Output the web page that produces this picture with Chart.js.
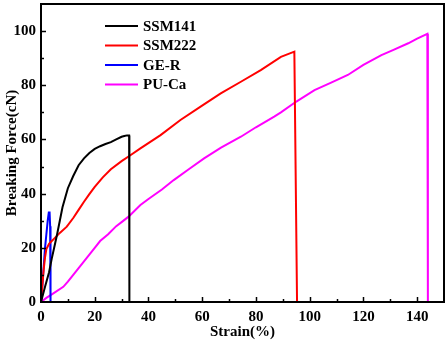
<!DOCTYPE html>
<html>
<head>
<meta charset="utf-8">
<script src="https://cdn.jsdelivr.net/npm/chart.js@4"></script>
<style>
  html, body { margin: 0; padding: 0; background: #fff; }
  #wrap { width: 447px; height: 343px; }
</style>
</head>
<body>
<div id="wrap"><canvas id="c" width="447" height="343"></canvas></div>
<script>
// values
const seriesNames = ['SSM141', 'SSM222', 'GE-R', 'PU-Ca'];
const seriesColors = ['#000000', '#ff0000', '#0000ff', '#ff00ff'];

const ssm141Strain = [0, 1.5, 3, 4, 5, 6, 7, 8, 9, 10, 12, 14, 16, 18, 20, 22, 24, 26, 28, 30, 31, 32, 32.8, 32.9];
const ssm141Force = [0, 5.6, 11, 16, 20.5, 25, 30, 35, 38.5, 42, 46.5, 50.5, 53, 55, 56.5, 57.5, 58.3, 59, 60, 61, 61.3, 61.5, 61.5, 0];

const ssm222Strain = [0, 0.5, 1, 1.5, 2, 3, 4, 5, 7, 9.6, 12, 14, 16, 18, 20, 23, 26, 30, 33, 37, 44.5, 51.9, 59.4, 66.9, 74.4, 81.8, 89.3, 94.3, 95.3];
const ssm222Force = [0, 6, 12, 16.5, 19.5, 21.5, 22.5, 23.5, 25.5, 27.8, 31, 34, 37, 39.8, 42.5, 46, 49, 52, 54, 56.7, 61.6, 67.2, 72.1, 77, 81.3, 85.6, 90.5, 92.4, 0];

const geStrain = [0, 0.5, 1, 1.5, 2, 2.5, 2.9, 3.2, 3.4, 3.5, 3.6];
const geForce = [0, 6, 13, 20, 25, 30, 33, 33, 28, 14, 0];

const puStrain = [0, 2, 4.6, 8.3, 10, 12, 14, 16, 18, 20, 22, 25, 28, 30, 32.6, 37, 40, 45, 49.4, 55, 60.7, 67, 74.4, 80, 86.8, 89.3, 94.9, 101.8, 108, 114.2, 120, 126.7, 131, 136.7, 140, 143.8, 144];
const puForce = [0, 1.5, 3.2, 5.6, 7.5, 10, 12.5, 15, 17.5, 20, 22.5, 25, 28, 29.5, 31.5, 35.8, 38, 41.5, 45, 49, 53, 57, 61, 64.5, 68.4, 70, 73.9, 78.2, 81, 83.8, 87.5, 91.1, 93, 95.5, 97.2, 99, 0];

const xTicks = [0, 20, 40, 60, 80, 100, 120, 140];
const yTicks = [0, 20, 40, 60, 80, 100];

const strains = [ssm141Strain, ssm222Strain, geStrain, puStrain];
const forces = [ssm141Force, ssm222Force, geForce, puForce];

const FONT = "'Liberation Serif', 'Times New Roman', serif";

function toPoints(xs, ys) {
  return xs.map((x, i) => ({ x: x, y: ys[i] }));
}

// frame, inward ticks and legend
const decorations = {
  id: 'decorations',
  afterDraw(chart) {
    const ctx = chart.ctx;
    const a = chart.chartArea;
    const xs = chart.scales.x;
    const ys = chart.scales.y;
    ctx.save();
    ctx.strokeStyle = '#000';
    ctx.lineWidth = 1.5;
    for (let v = 10; v < 150; v += 10) {
      const px = Math.round(xs.getPixelForValue(v)) + 0.5;
      const len = v % 20 === 0 ? 5 : 3;
      ctx.beginPath();
      ctx.moveTo(px, a.bottom);
      ctx.lineTo(px, a.bottom - len);
      ctx.stroke();
    }
    for (let v = 10; v < 110; v += 10) {
      const py = Math.round(ys.getPixelForValue(v)) + 0.5;
      const len = v % 20 === 0 ? 5 : 3;
      ctx.beginPath();
      ctx.moveTo(a.left, py);
      ctx.lineTo(a.left + len, py);
      ctx.stroke();
    }
    ctx.lineWidth = 2;
    ctx.strokeRect(a.left, a.top, a.right - a.left, a.bottom - a.top);

    // legend
    ctx.font = 'bold 15px ' + FONT;
    ctx.textBaseline = 'middle';
    ctx.textAlign = 'left';
    seriesNames.forEach((name, i) => {
      const y = 26 + i * 19.5;
      ctx.strokeStyle = seriesColors[i];
      ctx.lineWidth = 2;
      ctx.beginPath();
      ctx.moveTo(105, y);
      ctx.lineTo(138, y);
      ctx.stroke();
      ctx.fillStyle = '#000';
      ctx.fillText(name, 143, y + 1);
    });
    ctx.restore();
  }
};

function noPad(s) {
  s.paddingTop = 0;
  s.paddingBottom = 0;
  s.paddingLeft = 0;
  s.paddingRight = 0;
}

new Chart(document.getElementById('c'), {
  type: 'scatter',
  data: {
    datasets: seriesNames.map((name, i) => ({
      label: name,
      data: toPoints(strains[i], forces[i]),
      showLine: true,
      borderColor: seriesColors[i],
      backgroundColor: seriesColors[i],
      borderWidth: 2,
      pointRadius: 0,
      tension: 0
    }))
  },
  options: {
    responsive: false,
    animation: false,
    layout: { padding: { top: 4, right: 3, left: 0, bottom: 0 } },
    plugins: {
      legend: { display: false },
      tooltip: { enabled: false }
    },
    scales: {
      x: {
        type: 'linear',
        min: 0,
        max: 150,
        afterBuildTicks: s => { s.ticks = xTicks.map(v => ({ value: v })); },
        afterFit: s => { s.height = 41; noPad(s); },
        grid: { display: false, drawTicks: false },
        border: { display: false },
        ticks: {
          padding: 6,
          color: '#000',
          maxRotation: 0,
          font: { family: FONT, size: 15, weight: 'bold' }
        },
        title: {
          display: true,
          text: 'Strain(%)',
          color: '#000',
          padding: { top: 0, bottom: 2 },
          font: { family: FONT, size: 15, weight: 'bold' }
        }
      },
      y: {
        type: 'linear',
        min: 0,
        max: 110,
        afterBuildTicks: s => { s.ticks = yTicks.map(v => ({ value: v })); },
        afterFit: s => { s.width = 41; noPad(s); },
        grid: { display: false, drawTicks: false },
        border: { display: false },
        ticks: {
          padding: 5,
          color: '#000',
          font: { family: FONT, size: 15, weight: 'bold' }
        },
        title: {
          display: true,
          text: 'Breaking Force(cN)',
          color: '#000',
          padding: { top: 3, bottom: 0 },
          font: { family: FONT, size: 15, weight: 'bold' }
        }
      }
    }
  },
  plugins: [decorations]
});
</script>
</body>
</html>
